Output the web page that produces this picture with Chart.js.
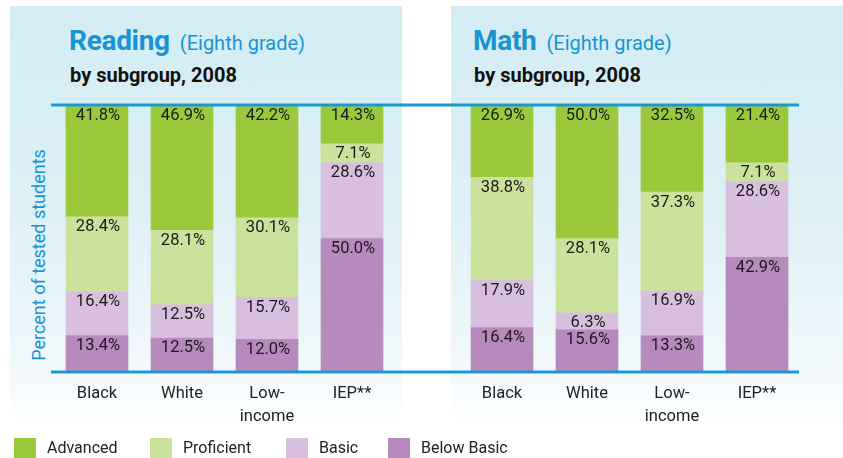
<!DOCTYPE html>
<html lang="en">
  <head>
    <meta charset="UTF-8" />
    <title>Reading and Math, eighth grade, by subgroup 2008</title>
    <script src="https://cdn.jsdelivr.net/npm/chart.js"></script>
    <style>
      body {
        margin: 0;
        width: 843px;
        height: 458px;
        position: relative;
        overflow: hidden;
        background: #fff;
        font-family: Roboto, "Open Sans", sans-serif;
      }
      .panel {
        position: absolute;
        top: 6px;
        height: 424px;
        width: 392px;
        background: linear-gradient(#d3ecf4 0%, #dcf0f6 45%, #eef7fb 80%, #ffffff 100%);
      }
      .title {
        position: absolute;
        top: 24px;
        color: #1a93d3;
        white-space: nowrap;
      }
      .title b {
        font-size: 28px;
        font-weight: 700;
        letter-spacing: -0.3px;
      }
      .title span {
        font-size: 20px;
        margin-left: 10px;
      }
      .sub {
        position: absolute;
        top: 63px;
        font-size: 20px;
        font-weight: 700;
        color: #111;
        white-space: nowrap;
      }
      .ytitle {
        position: absolute;
        left: 38px;
        top: 255px;
        transform: translate(-50%, -50%) rotate(-90deg);
        color: #1a93d3;
        font-size: 18px;
        white-space: nowrap;
      }
      canvas {
        position: absolute;
        top: 0;
      }
      .legend {
        position: absolute;
        top: 438px;
        left: 14px;
        font-size: 16px;
        color: #222;
      }
      .legend div {
        position: absolute;
        top: 0;
        white-space: nowrap;
      }
      .legend i {
        display: inline-block;
        width: 22px;
        height: 22px;
        vertical-align: middle;
        margin-right: 11px;
      }
    </style>
  </head>
  <body>
    <div class="panel" style="left: 10px"></div>
    <div class="panel" style="left: 451px"></div>
    <div class="title" style="left: 69px"><b>Reading</b><span>(Eighth grade)</span></div>
    <div class="title" style="left: 473px"><b>Math</b><span>(Eighth grade)</span></div>
    <div class="sub" style="left: 70px">by subgroup, 2008</div>
    <div class="sub" style="left: 474px">by subgroup, 2008</div>
    <div class="ytitle">Percent of tested students</div>

    <div style="position: absolute; left: 0; top: 0; width: 420px; height: 458px">
      <canvas id="readingChart"></canvas>
    </div>
    <div style="position: absolute; left: 420px; top: 0; width: 423px; height: 458px">
      <canvas id="mathChart"></canvas>
    </div>

    <div class="legend" id="legend"></div>

    <script>
      const categories = ["Black", "White", ["Low-", "income"], "IEP**"];
      const levels = ["Advanced", "Proficient", "Basic", "Below Basic"];
      const levelColors = ["#9aca3c", "#cbe29d", "#d8bfdd", "#b68abd"];

      // reading, eighth grade
      const readingAdvanced = [41.8, 46.9, 42.2, 14.3];
      const readingProficient = [28.4, 28.1, 30.1, 7.1];
      const readingBasic = [16.4, 12.5, 15.7, 28.6];
      const readingBelowBasic = [13.4, 12.5, 12.0, 50.0];

      // math, eighth grade
      const mathAdvanced = [26.9, 50.0, 32.5, 21.4];
      const mathProficient = [38.8, 28.1, 37.3, 7.1];
      const mathBasic = [17.9, 6.3, 16.9, 28.6];
      const mathBelowBasic = [16.4, 15.6, 13.3, 42.9];

      const blue = "#1a98d6";

      // blue rules at 0 and 100, drawn across the panel width
      const rulesPlugin = {
        id: "rules",
        afterDatasetsDraw(chart, args, opts) {
          const ctx = chart.ctx;
          const y = chart.scales.y;
          ctx.save();
          ctx.strokeStyle = blue;
          ctx.lineWidth = 3;
          [100, 0].forEach((v) => {
            const py = Math.round(y.getPixelForValue(v)) + (v === 100 ? -1 : 1);
            ctx.beginPath();
            ctx.moveTo(opts.x0, py);
            ctx.lineTo(opts.x1, py);
            ctx.stroke();
          });
          ctx.restore();
        },
      };

      // value labels at the top of each segment
      const labelPlugin = {
        id: "segLabels",
        afterDatasetsDraw(chart) {
          const ctx = chart.ctx;
          ctx.save();
          ctx.font = "16.5px Roboto, sans-serif";
          ctx.fillStyle = "#1a1a1a";
          ctx.textAlign = "center";
          ctx.textBaseline = "top";
          chart.data.datasets.forEach((ds, i) => {
            chart.getDatasetMeta(i).data.forEach((bar, j) => {
              ctx.fillText(ds.data[j].toFixed(1) + "%", bar.x + 1, bar.y + 2);
            });
          });
          ctx.restore();
        },
      };

      function makeChart(id, adv, prof, basic, below, x0, x1, padLeft, padRight) {
        const series = [below, basic, prof, adv];
        const names = levels.slice().reverse();
        const colors = levelColors.slice().reverse();
        return new Chart(document.getElementById(id), {
          type: "bar",
          data: {
            labels: categories,
            datasets: series.map((d, i) => ({
              label: names[i],
              data: d,
              backgroundColor: colors[i],
              barThickness: 62,
            })),
          },
          options: {
            responsive: true,
            maintainAspectRatio: false,
            animation: false,
            layout: {
              padding: { top: 106, bottom: 18, left: padLeft, right: padRight },
            },
            plugins: {
              legend: { display: false },
              tooltip: { enabled: false },
              rules: { x0: x0, x1: x1 },
            },
            scales: {
              x: {
                stacked: true,
                grid: { display: false, drawTicks: false },
                border: { display: false },
                ticks: {
                  padding: 12,
                  color: "#222",
                  font: { family: "Roboto", size: 16.5, lineHeight: 1.36 },
                  maxRotation: 0,
                },
              },
              y: {
                stacked: true,
                display: false,
                min: 0,
                max: 100,
              },
            },
          },
          plugins: [labelPlugin, rulesPlugin],
        });
      }

      makeChart("readingChart", readingAdvanced, readingProficient, readingBasic, readingBelowBasic, 51, 420, 54.5, 25.5);
      makeChart("mathChart", mathAdvanced, mathProficient, mathBasic, mathBelowBasic, 0, 379, 39.5, 43.5);

      const legendLefts = [0, 136, 272, 374];
      const legend = document.getElementById("legend");
      levels.forEach((name, i) => {
        const item = document.createElement("div");
        item.style.left = legendLefts[i] + "px";
        item.innerHTML = '<i style="background:' + levelColors[i] + '"></i>' + name;
        legend.appendChild(item);
      });
    </script>
  </body>
</html>
